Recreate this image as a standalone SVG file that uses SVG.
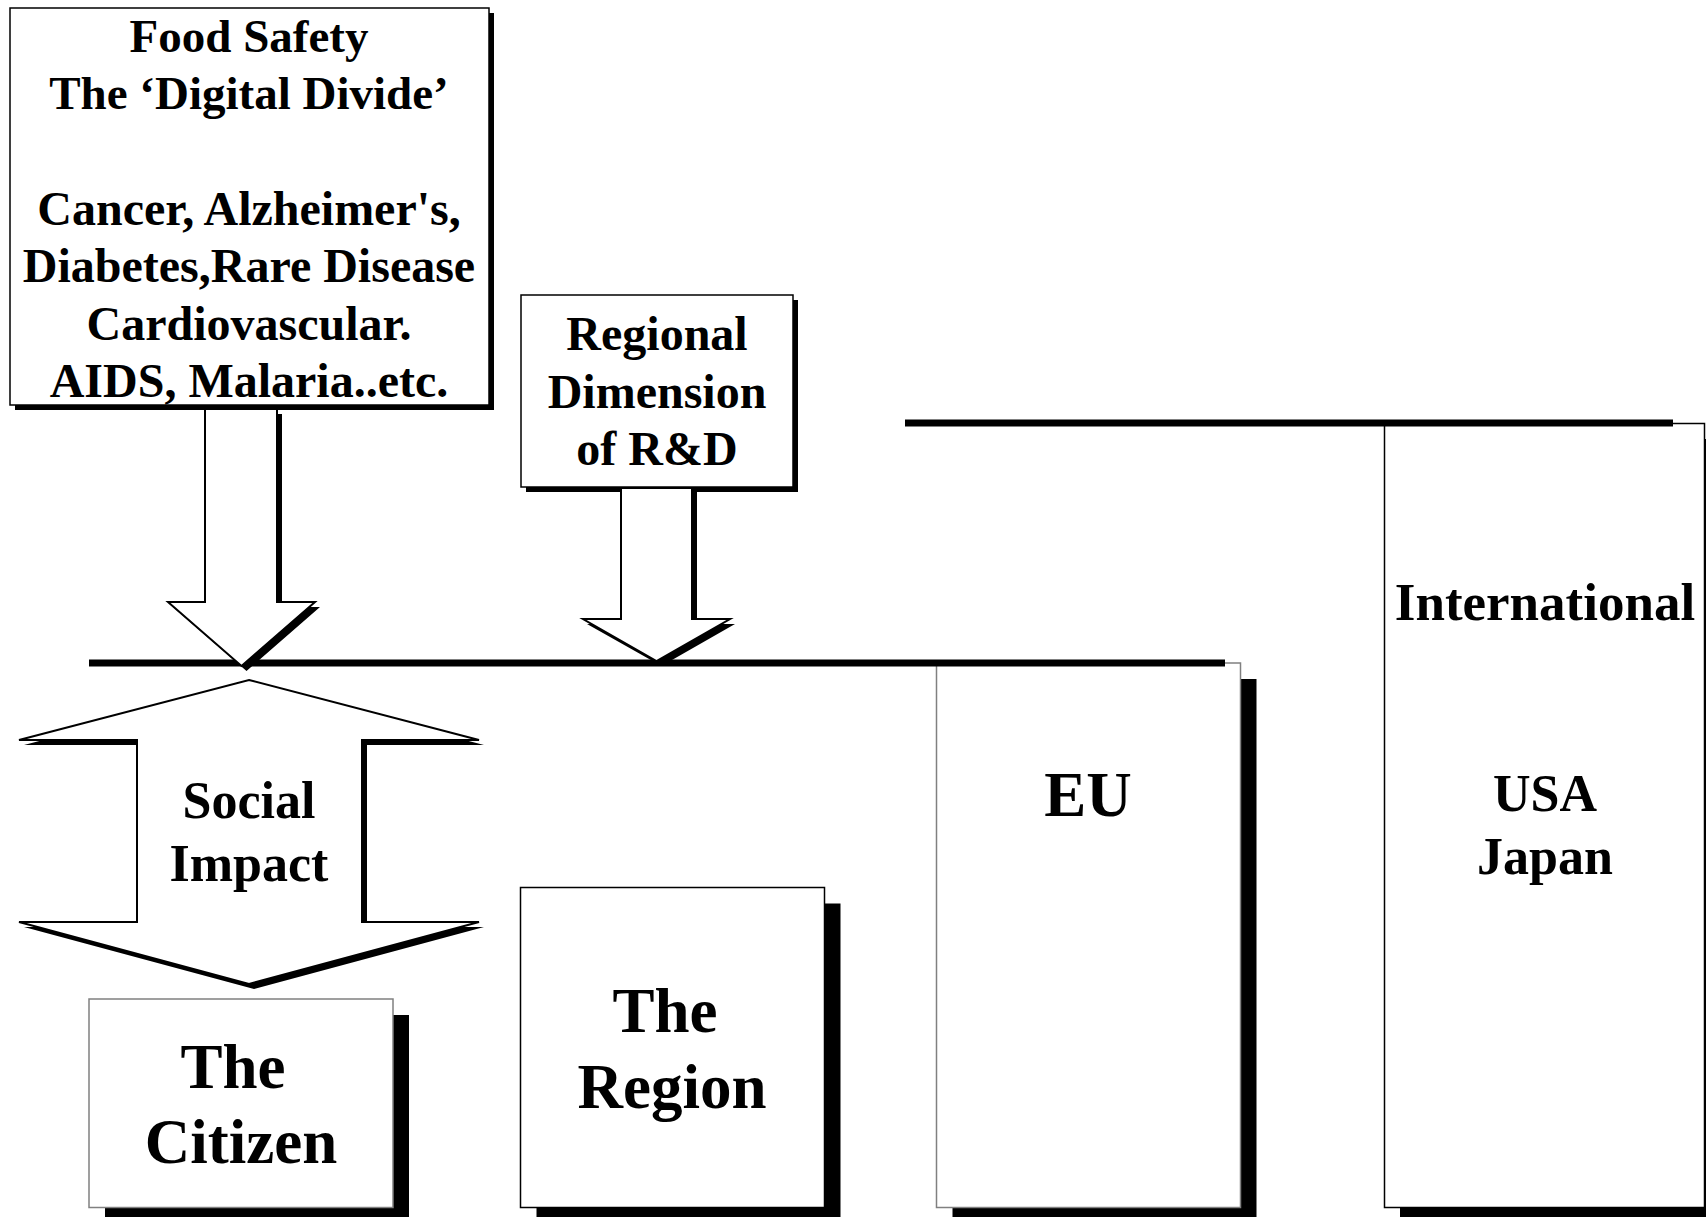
<svg xmlns="http://www.w3.org/2000/svg" width="1706" height="1217" viewBox="0 0 1706 1217">
<style>
.t{font-family:"Liberation Serif","Times New Roman",serif;font-weight:bold;fill:#000;text-anchor:middle}
.box{fill:#fff;stroke:#000;stroke-width:1.5}
.boxg{fill:#fff;stroke:#808080;stroke-width:1.5}
.sh{fill:#000}
.arr{fill:#fff;stroke:#000;stroke-width:2;stroke-linejoin:miter}
.bar{stroke:#000;stroke-width:7;fill:none}
</style>
<rect width="1706" height="1217" fill="#fff"/>

<g id="international">
<rect class="sh" x="1400" y="439" width="320" height="785"/>
<rect class="box" x="1384.5" y="423.5" width="320" height="784"/>
<text class="t" x="1545" y="620" font-size="53">International</text>
<text class="t" x="1545" y="811" font-size="52">USA</text>
<text class="t" x="1545" y="874" font-size="52">Japan</text>
</g>

<g id="eu">
<rect class="sh" x="952.5" y="679" width="304" height="545"/>
<rect class="boxg" x="936.5" y="663" width="304" height="544.5"/>
<text class="t" x="1088" y="816" font-size="63">EU</text>
</g>

<g id="region">
<rect class="sh" x="536.5" y="903.5" width="304" height="320"/>
<rect class="box" x="520.5" y="887.5" width="304" height="320"/>
<text class="t" x="665" y="1032" font-size="63">The</text>
<text class="t" x="672" y="1108" font-size="63">Region</text>
</g>

<g id="citizen">
<rect class="sh" x="105" y="1015" width="304" height="210"/>
<rect class="boxg" x="89" y="999" width="304" height="208.5"/>
<text class="t" x="233" y="1088" font-size="63">The</text>
<text class="t" x="241" y="1163" font-size="63">Citizen</text>
</g>

<g id="social-impact">
<polygon class="sh" points="254,685 484,745 367,745 367,927 484,927 254,989 24,927 142,927 142,745 24,745"/>
<polygon class="arr" points="249,680 479,740 362,740 362,922 479,922 249,984 19,922 137,922 137,740 19,740"/>
<text class="t" x="249" y="818" font-size="52">Social</text>
<text class="t" x="249" y="881" font-size="52">Impact</text>
</g>

<g id="food-safety">
<rect class="sh" x="15" y="13" width="479" height="397"/>
<rect class="box" x="10" y="8" width="479" height="397"/>
<text class="t" x="249" y="52" font-size="47">Food Safety</text>
<text class="t" x="249" y="109" font-size="47">The ‘Digital Divide’</text>
<text class="t" x="249" y="225" font-size="48">Cancer, Alzheimer's,</text>
<text class="t" x="249" y="282" font-size="48">Diabetes,Rare Disease</text>
<text class="t" x="249" y="340" font-size="48">Cardiovascular.</text>
<text class="t" x="249" y="397" font-size="48">AIDS, Malaria..etc.</text>
</g>

<g id="regional-dimension">
<rect class="sh" x="526" y="300" width="272" height="192"/>
<rect class="box" x="521" y="295" width="272" height="192"/>
<text class="t" x="657" y="350" font-size="48">Regional</text>
<text class="t" x="657" y="408" font-size="48">Dimension</text>
<text class="t" x="657" y="465" font-size="48">of R&amp;D</text>
</g>

<g id="connectors">
<line class="bar" x1="905" y1="423" x2="1673" y2="423"/>
<line class="bar" x1="89" y1="663" x2="1225" y2="663"/>
<polygon class="sh" points="210,414 282,414 282,607 320,607 246.5,671 173,607 210,607"/>
<polygon class="arr" points="205,409 277,409 277,602 315,602 241.5,666 168,602 205,602"/>
<polygon class="sh" points="626,492 697,492 697,624 735,624 661.5,666 587,624 626,624"/>
<polygon class="arr" points="621,488 692,488 692,619 730,619 656.5,661 583,619 621,619"/>
</g>
</svg>
